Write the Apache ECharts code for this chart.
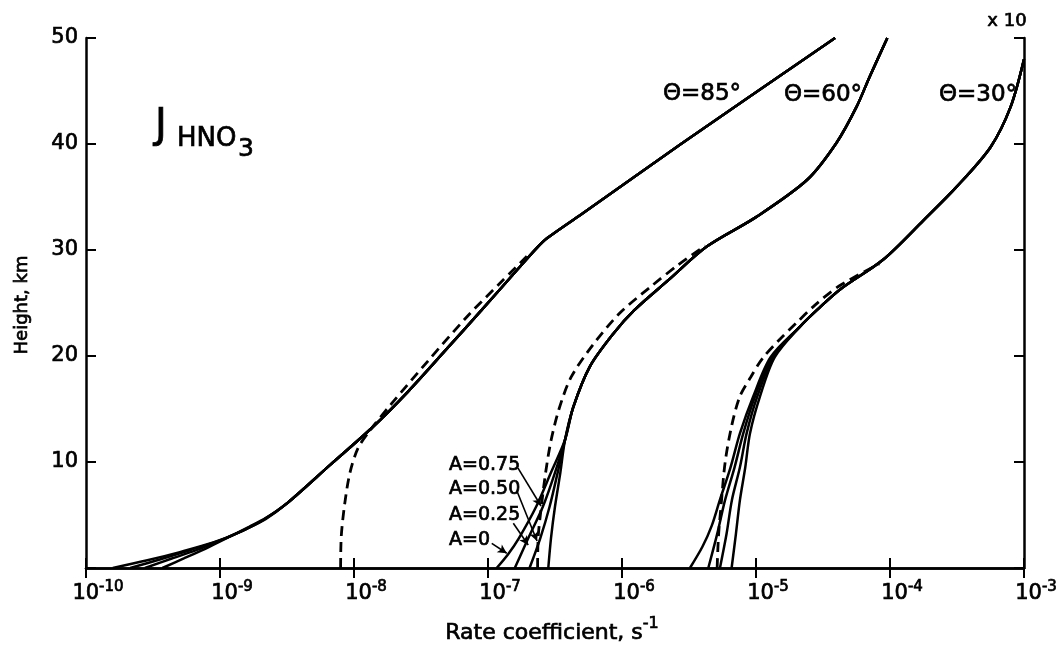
<!DOCTYPE html>
<html><head><meta charset="utf-8">
<script src="https://cdn.jsdelivr.net/npm/echarts@6/dist/echarts.min.js"></script>
<style>html,body{margin:0;padding:0;background:#fff}#c{width:1060px;height:649px}</style>
</head><body><div id="c"></div>
<script>
// ---------- data (points are [log10(rate coefficient, s^-1), height km]) ----------
const xTickExponents = [-10, -9, -8, -7, -6, -5, -4, -3];
const yTickValues = [10, 20, 30, 40, 50];
const albedoLabels = ['A=0.75', 'A=0.50', 'A=0.25', 'A=0'];
const angleLabels = ['\u0398=85\u00b0', '\u0398=60\u00b0', '\u0398=30\u00b0'];

// theta = 85 deg
const theta85Upper = [[-8.50,6.1],[-8.18,9.7],[-7.86,13.3],[-7.60,16.6],[-7.32,20.5],[-7.05,24.3],[-6.77,28.3],[-6.635,30.2],[-6.56,31.1],[-6.30,33.4],[-5.56,40],[-4.41,50]];
const theta85A0  = [[-9.80,0],[-9.55,0.7],[-9.30,1.5],[-9.05,2.4],[-8.85,3.4],[-8.68,4.5]];
const theta85A25 = [[-9.67,0],[-9.45,0.8],[-9.22,1.7],[-9.00,2.6],[-8.82,3.6],[-8.67,4.6]];
const theta85A50 = [[-9.56,0],[-9.36,0.9],[-9.15,1.8],[-8.96,2.8],[-8.80,3.7],[-8.66,4.6]];
const theta85A75 = [[-9.43,0],[-9.27,0.9],[-9.08,2.0],[-8.92,3.0],[-8.78,3.9],[-8.66,4.7]];
const theta85Dashed = [[-8.10,0],[-8.095,3],[-8.07,6],[-8.03,9],[-7.97,11.3],[-7.88,13.0],[-7.72,15.5],[-7.45,19.5],[-7.15,23.8],[-6.90,27.0],[-6.71,29.4]];

// theta = 60 deg
const theta60Upper = [[-6.425,12.1],[-6.363,15.2],[-6.24,19.0],[-6.065,22.1],[-5.91,24.3],[-5.65,27.2],[-5.37,30.3],[-5.0,33.1],[-4.62,36.6],[-4.40,40.1],[-4.25,43.5],[-4.15,46.4],[-4.02,50]];
const theta60A0  = [[-6.935,0],[-6.85,1.3],[-6.77,2.8],[-6.64,5.8],[-6.53,9.0]];
const theta60A25 = [[-6.80,0],[-6.70,2.8],[-6.59,5.8],[-6.50,9.0]];
const theta60A50 = [[-6.69,0],[-6.61,2.8],[-6.54,5.8],[-6.48,9.0]];
const theta60A75 = [[-6.55,0],[-6.53,2.8],[-6.50,5.8],[-6.46,9.0]];
const theta60Dashed = [[-6.63,0],[-6.625,3],[-6.60,6],[-6.57,9],[-6.53,12],[-6.47,15],[-6.38,18],[-6.22,21],[-6.02,24],[-5.78,26.6],[-5.58,28.6],[-5.38,30.4]];

// theta = 30 deg
const theta30Upper = [[-4.67,22.8],[-4.54,24.4],[-4.37,26.3],[-4.05,29.1],[-3.75,32.8],[-3.50,36.0],[-3.25,39.7],[-3.10,43.5],[-3.0,48.0]];
const theta30A0  = [[-5.493,0],[-5.40,2],[-5.33,4],[-5.27,6.4],[-5.19,9.5],[-5.12,12.7],[-5.02,16.2],[-4.89,19.9]];
const theta30A25 = [[-5.356,0],[-5.29,3.2],[-5.231,6.4],[-5.16,9.5],[-5.095,12.7],[-5.007,16.2],[-4.88,19.9]];
const theta30A50 = [[-5.269,0],[-5.22,3.2],[-5.18,6.4],[-5.12,9.5],[-5.07,12.7],[-4.99,16.2],[-4.87,19.9]];
const theta30A75 = [[-5.182,0],[-5.15,3.2],[-5.12,6.4],[-5.08,9.5],[-5.045,12.7],[-4.97,16.2],[-4.86,19.9]];
const theta30Dashed = [[-5.29,0],[-5.28,3],[-5.26,6],[-5.23,10],[-5.18,13.5],[-5.12,16.2],[-5.04,18],[-4.95,19.8],[-4.82,21.6],[-4.70,23.1],[-4.56,24.8],[-4.38,26.6],[-4.08,28.7]];

// leader arrows for the albedo labels, in data units [log10(rate), km]
const leaderLines = [
  [[-6.776, 9.43], [-6.604, 5.85]],
  [[-6.784, 7.26], [-6.634, 2.55]],
  [[-6.811, 4.22], [-6.70, 2.17]],
  [[-6.972, 2.33], [-6.86, 1.39]]
];

// ---------- build ----------
const toVal = pts => pts.map(p => [Math.pow(10, p[0]), p[1]]);
const FONT = 'DejaVu Sans';
const INK = '#000';
const BOLD = 0.7;
const solid = (name, pts) => ({
  name, type: 'line', data: toVal(pts), smooth: 0.3, showSymbol: false, symbol: 'none',
  lineStyle: { color: INK, width: 2.5 }, silent: true, animation: false, clip: true, z: 3
});
const dashed = (name, pts) => ({
  name, type: 'line', data: toVal(pts), smooth: 0.3, showSymbol: false, symbol: 'none',
  lineStyle: { color: INK, width: 2.8, type: [10, 6] }, silent: true, animation: false, clip: true, z: 3
});

const series = [
  solid('85 A0', theta85A0.concat(theta85Upper)),
  solid('85 A0.25', theta85A25.concat(theta85Upper)),
  solid('85 A0.50', theta85A50.concat(theta85Upper)),
  solid('85 A0.75', theta85A75.concat(theta85Upper)),
  dashed('85 dashed', theta85Dashed),
  solid('60 A0', theta60A0.concat(theta60Upper)),
  solid('60 A0.25', theta60A25.concat(theta60Upper)),
  solid('60 A0.50', theta60A50.concat(theta60Upper)),
  solid('60 A0.75', theta60A75.concat(theta60Upper)),
  dashed('60 dashed', theta60Dashed),
  solid('30 A0', theta30A0.concat(theta30Upper)),
  solid('30 A0.25', theta30A25.concat(theta30Upper)),
  solid('30 A0.50', theta30A50.concat(theta30Upper)),
  solid('30 A0.75', theta30A75.concat(theta30Upper)),
  dashed('30 dashed', theta30Dashed),
  {
    name: 'leaders', type: 'line', data: [], silent: true, animation: false,
    markLine: {
      silent: true, animation: false, symbol: ['none', 'arrow'], symbolSize: [7, 9],
      label: { show: false },
      lineStyle: { color: INK, width: 1.6, type: 'solid' },
      data: leaderLines.map(l => [{ coord: [Math.pow(10, l[0][0]), l[0][1]] }, { coord: [Math.pow(10, l[1][0]), l[1][1]] }])
    }
  }
];

const mctx = document.createElement('canvas').getContext('2d');
const SUP = 15;
mctx.font = SUP + 'px ' + FONT;
const supW = t => Math.round(mctx.measureText(t).width);

const axisLine = { show: true, lineStyle: { color: INK, width: 2.5 } };
const axisTick = { show: true, inside: true, length: 10, lineStyle: { color: INK, width: 2 } };
const txt = (x, y, text, size, align, extra) => Object.assign({
  type: 'text', x, y, silent: true,
  style: { text, font: size + 'px "' + FONT + '"', fill: INK, stroke: INK, lineWidth: BOLD, textAlign: align || 'left', textVerticalAlign: 'middle' }
}, extra || {});

const option = {
  backgroundColor: '#fff',
  animation: false,
  grid: { left: 86, right: 36, top: 38, bottom: 81, containLabel: false, outerBoundsMode: 'none' },
  xAxis: [{
    type: 'log', logBase: 10, min: Math.pow(10, xTickExponents[0]), max: Math.pow(10, xTickExponents[xTickExponents.length - 1]),
    splitNumber: xTickExponents.length - 1, position: 'bottom',
    axisLine, axisTick, splitLine: { show: false }, minorTick: { show: false },
    axisLabel: {
      margin: 12, color: INK, fontFamily: FONT, textBorderColor: INK, textBorderWidth: BOLD,
      formatter: v => {
        const e = Math.round(Math.log10(v));
        if (xTickExponents.indexOf(e) < 0) return '';
        const s = '-' + Math.abs(e);
        return '{sp|}{b|10}{s|' + s + '}';
      },
      rich: {
        b: { fontSize: 21, fontFamily: FONT, color: INK, textBorderColor: INK, textBorderWidth: BOLD, lineHeight: 24, verticalAlign: 'bottom' },
        s: { fontSize: SUP, fontFamily: FONT, color: INK, textBorderColor: INK, textBorderWidth: BOLD, lineHeight: 16, verticalAlign: 'top' },
        sp: { width: supW('-10'), lineHeight: 24 }
      }
    }
  }, {
    type: 'log', logBase: 10, min: Math.pow(10, xTickExponents[0]), max: Math.pow(10, xTickExponents[xTickExponents.length - 1]),
    splitNumber: xTickExponents.length - 1, position: 'top',
    axisLine, axisTick, splitLine: { show: false }, axisLabel: { show: false }
  }],
  yAxis: [{
    type: 'value', min: 0, max: yTickValues[yTickValues.length - 1], interval: yTickValues[1] - yTickValues[0], position: 'left',
    axisLine, axisTick, splitLine: { show: false },
    axisLabel: { margin: 8, color: INK, fontSize: 21, fontFamily: FONT, textBorderColor: INK, textBorderWidth: BOLD,
      formatter: v => (yTickValues.indexOf(v) >= 0 ? String(v) : '') }
  }, {
    type: 'value', min: 0, max: yTickValues[yTickValues.length - 1], interval: yTickValues[1] - yTickValues[0], position: 'right',
    axisLine, axisTick, splitLine: { show: false }, axisLabel: { show: false }
  }],
  series,
  graphic: [
    txt(155, 127, 'J', 40),
    txt(177, 139, 'HNO', 26),
    txt(238, 149, '3', 25),
    txt(702, 94, angleLabels[0], 23, 'center'),
    txt(823, 95, angleLabels[1], 23, 'center'),
    txt(978, 95, angleLabels[2], 23, 'center'),
    txt(449, 465, albedoLabels[0], 19),
    txt(449, 489, albedoLabels[1], 19),
    txt(449, 515, albedoLabels[2], 19),
    txt(449, 540, albedoLabels[3], 19),
    txt(1007, 21, 'x 10', 18, 'center'),
    { type: 'text', x: 552, y: 630, silent: true, style: {
        text: '{a|Rate coefficient, s}{b|-1}', textAlign: 'center', textVerticalAlign: 'middle',
        rich: { a: { fontSize: 22, fontFamily: FONT, fill: INK, stroke: INK, lineWidth: BOLD, lineHeight: 28, verticalAlign: 'bottom' },
                b: { fontSize: 16, fontFamily: FONT, fill: INK, stroke: INK, lineWidth: BOLD, lineHeight: 16, verticalAlign: 'top' } } } },
    txt(22, 305, 'Height, km', 18, 'center', { rotation: Math.PI / 2 })
  ]
};
const chart = echarts.init(document.getElementById('c'), null, { renderer: 'canvas' });
chart.setOption(option);
</script></body></html>
